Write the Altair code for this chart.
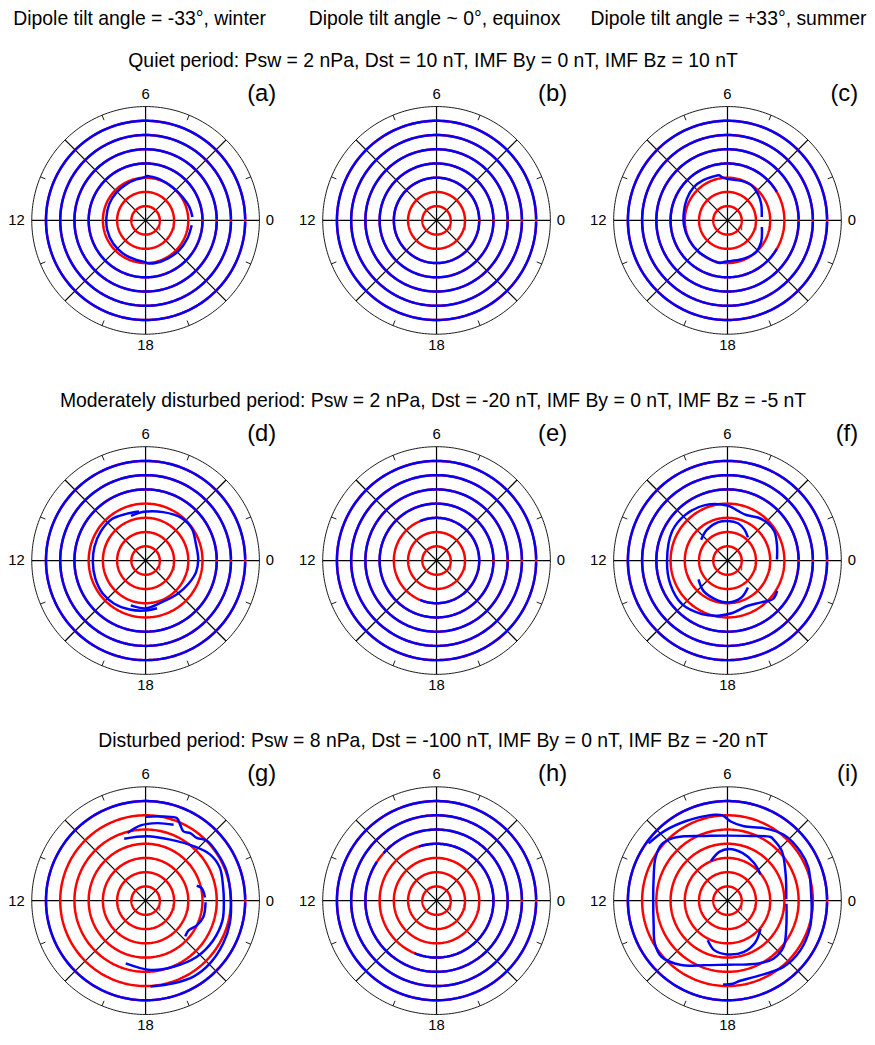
import altair as alt
import pandas as pd

FONT = "Liberation Sans"
RED = "#ff0000"
BLUE = "#0000ff"

# ---------------- text ----------------
COL_TITLES = [
    "Dipole tilt angle = -33°, winter",
    "Dipole tilt angle ~ 0°, equinox",
    "Dipole tilt angle = +33°, summer",
]
COL_DX = [-2.5, 1.5, -0.5]
ROW_TITLES = [
    "Quiet period: Psw = 2 nPa, Dst = 10 nT, IMF By = 0 nT, IMF Bz = 10 nT",
    "Moderately disturbed period: Psw = 2 nPa, Dst = -20 nT, IMF By = 0 nT, IMF Bz = -5 nT",
    "Disturbed period: Psw = 8 nPa, Dst = -100 nT, IMF By = 0 nT, IMF Bz = -20 nT",
]
PANEL_LABELS = ["(a)", "(b)", "(c)", "(d)", "(e)", "(f)", "(g)", "(h)", "(i)"]

# ---------------- polar frame ----------------
HOUR_VALUES = [0, 6, 12, 18]
HOUR_TEXT = ["0", "6", "12", "18"]
SPOKE_HOURS = [0, 3, 6, 9, 12, 15, 18, 21]
RIM_TICK_HOURS = [1.5, 4.5, 7.5, 10.5, 13.5, 16.5, 19.5, 22.5]
RADIAL_TICK_R = [1, 2, 3, 4, 5, 6, 7]
RIM_R = 8
MODEL_R = [1, 2, 3, 4, 5, 6, 7]   # red (model) contours, all panels

# ---------------- blue contours that follow circles: (radius, from hour, to hour) ----
A_ARCS = [(4, 0, 24), (5, 0, 24), (6, 0, 24), (7, 0, 24)]
B_ARCS = [(3, 0, 24), (4, 0, 24), (5, 0, 24), (6, 0, 24), (7, 0, 24)]
C_ARCS = [(4, 2.0, 22.0), (5, 0, 24), (6, 0, 24), (7, 0, 24)]
D_ARCS = [(5, 0, 24), (6, 0, 24), (7, 0, 24)]
E_ARCS = [(3, 16.5, 31.5), (4, 0, 24), (5, 0, 24), (6, 0, 24), (7, 0, 24)]
F_ARCS = [(5, 0, 24), (6, 0, 24), (7, 0, 24)]
G_ARCS = [(7, 0, 24)]
H_ARCS = [(4, 16.5, 31.2), (5, 9.8, 33.2), (6, 0, 24), (7, 0, 24)]
I_ARCS = [(7, 0, 24)]

# ---------------- distorted blue contours: hour (MLT) and radius ----------------
A1_H = [0.27, 1.12, 2.13, 3.37, 4.76, 5.55, 5.85, 6.2, 6.84, 7.85, 9.07, 10.37, 11.68,
        12.97, 14.37, 15.72, 17.13, 17.9, 18.2, 18.78, 20.0, 21.24, 22.44, 23.6]
A1_R = [3.30, 3.22, 3.08, 3.00, 3.06, 3.10, 3.12, 3.00, 2.95, 2.88, 2.84, 2.80, 2.76,
        2.78, 2.80, 2.82, 2.86, 2.92, 3.02, 3.08, 3.10, 3.16, 3.20, 3.26]

C1_H = [0.37, 1.74, 2.73, 3.73, 4.7, 5.94, 6.45, 6.7, 7.19, 8.06, 9.05, 10.14, 11.29,
        12.43, 13.83, 15.15, 16.55, 17.3, 17.6, 18.37, 19.62, 20.83, 21.83, 23.27]
C1_R = [2.42, 2.64, 2.83, 2.99, 2.95, 2.90, 3.05, 3.22, 3.24, 3.30, 3.33, 3.23, 3.12,
        3.08, 3.03, 3.00, 3.00, 3.05, 2.95, 2.87, 2.93, 2.99, 2.81, 2.46]

D1_H = [7.2, 6.13, 4.67, 3.3, 2.3, 1.19, 0.1, 23.14, 22.1, 20.9, 19.32, 18.0, 16.79]
D1_R = [3.30, 3.43, 3.62, 3.92, 3.95, 3.72, 3.70, 3.64, 3.43, 3.25, 3.15, 3.36, 3.32]
D2_H = [6.5, 7.5, 8.6, 9.8, 11.0, 12.1, 13.3, 14.5, 15.6, 16.8, 17.9, 18.9]
D2_R = [3.48, 3.55, 3.75, 3.75, 3.72, 3.71, 3.75, 3.80, 3.75, 3.62, 3.52, 3.45]

F1_H = [0.08, 1.18, 2.12, 2.85, 3.65, 4.5, 5.2, 5.95, 7.47, 8.85, 10.16, 12.04, 13.5,
        14.9, 16.29, 17.36, 18.29, 19.62, 20.59, 21.3, 21.9]
F1_R = [3.48, 3.65, 3.88, 3.86, 3.70, 3.46, 3.56, 3.85, 4.20, 4.37, 4.40, 4.25, 4.35,
        4.43, 4.17, 3.93, 3.72, 3.49, 3.78, 4.18, 4.10]
F2_H = [3.23, 4.05, 4.95, 5.94, 6.9, 8.27, 9.45]
F2_R = [2.17, 2.47, 2.72, 2.78, 2.77, 2.60, 2.36]
F3_H = [14.2, 15.44, 16.8, 18.06, 19.37, 20.47]
F3_R = [2.43, 2.72, 2.85, 2.95, 2.78, 2.38]

G1_H = [6.0, 5.19, 4.61, 4.37, 4.09, 3.77, 3.39, 2.97, 2.17, 1.35, 0.15, 23.0, 22.07,
        21.05, 20.15, 19.25, 18.22]
G1_R = [5.90, 6.05, 6.20, 5.87, 5.55, 5.69, 5.69, 6.02, 6.05, 6.06, 5.99, 6.13, 6.23,
        6.32, 6.31, 6.13, 6.04]
G2_H = [7.27, 5.9, 4.53, 3.25, 2.38, 1.6, 0.64, 0.0, 23.04, 21.98, 20.83, 19.53, 18.27, 16.83]
G2_R = [4.61, 4.53, 4.63, 5.10, 5.57, 5.71, 5.53, 5.50, 5.58, 5.51, 5.34, 5.04, 4.88, 4.62]
G3_H = [7.0, 6.25, 5.43, 4.65]
G3_R = [4.92, 5.30, 5.51, 5.69]
G4_H = [1.08, 0.84, 0.21]
G4_R = [3.74, 4.04, 4.18]
G5_H = [23.9, 22.94, 22.28, 21.69, 21.2]
G5_R = [4.22, 4.22, 4.00, 3.67, 3.75]

I1_H = [9.6, 8.8, 7.8, 7.0, 6.58, 6.22, 5.84, 5.17, 4.23, 3.3, 2.28, 1.48, 0.3,
        23.6, 22.8, 21.7, 20.7, 19.4, 18.6, 18.25, 17.8]
I1_R = [6.85, 6.60, 6.30, 6.15, 6.10, 6.00, 5.57, 5.35, 5.70, 6.09, 6.18, 6.14, 5.90,
        5.95, 6.10, 6.20, 6.10, 5.70, 5.70, 5.85, 5.90]
I2_H = [0.1, 1.63, 2.82, 3.53, 3.73, 4.69, 6.0, 7.31, 8.25, 8.81, 9.31, 9.95, 11.0, 12.0,
        13.16, 14.04, 14.69, 15.62, 16.69, 18.0, 19.15, 19.77, 20.58, 21.37, 22.39, 23.8]
I2_R = [4.13, 4.49, 5.17, 5.38, 5.40, 4.83, 4.57, 4.83, 5.44, 5.88, 6.09, 5.89, 5.38, 5.22,
        5.44, 5.93, 6.09, 5.57, 4.81, 4.50, 4.69, 4.93, 5.20, 5.11, 4.53, 4.15]
I3_H = [7.51, 6.64, 5.88, 4.85, 3.68, 2.58]
I3_R = [3.02, 3.48, 3.64, 3.52, 3.25, 2.97]
I4_H = [16.23, 17.0, 18.0, 19.19, 20.28, 21.31]
I4_R = [3.11, 3.60, 3.78, 3.78, 3.51, 3.05]

PANELS = [
    ("(a)", A_ARCS, [(A1_H, A1_R)]),
    ("(b)", B_ARCS, []),
    ("(c)", C_ARCS, [(C1_H, C1_R)]),
    ("(d)", D_ARCS, [(D1_H, D1_R), (D2_H, D2_R)]),
    ("(e)", E_ARCS, []),
    ("(f)", F_ARCS, [(F1_H, F1_R), (F2_H, F2_R), (F3_H, F3_R)]),
    ("(g)", G_ARCS, [(G1_H, G1_R), (G2_H, G2_R), (G3_H, G3_R), (G4_H, G4_R), (G5_H, G5_R)]),
    ("(h)", H_ARCS, []),
    ("(i)", I_ARCS, [(I1_H, I1_R), (I2_H, I2_R), (I3_H, I3_R), (I4_H, I4_R)]),
]

# ---------------- layout / style constants ----------------
PX_PER_UNIT = 14.375
X_DOM = [-9.67, 9.18]    # panel extent, data units (room for the hour labels)
Y_DOM = [-9.18, 9.39]
W = round((X_DOM[1] - X_DOM[0]) * PX_PER_UNIT)
H = round((Y_DOM[1] - Y_DOM[0]) * PX_PER_UNIT)
TITLE_SIZE = 19.6
LINE_W = 2.5
COL_GAP = 23
# hour-label placement: (hour, label radius, align, baseline)
LABEL_STYLE = [(6, 8.54, "center", "alphabetic"), (18, 8.25, "center", "top"),
               (12, 8.5, "right", "middle"), (0, 8.45, "left", "middle")]
XS = alt.Scale(domain=X_DOM, nice=False, zero=False)
YS = alt.Scale(domain=Y_DOM, nice=False, zero=False)
X = alt.X("x:Q", scale=XS, axis=None)
Y = alt.Y("y:Q", scale=YS, axis=None)
POLAR = dict(x="datum.r*cos(datum.h*PI/12)", y="datum.r*sin(datum.h*PI/12)")
LABEL_DF = pd.DataFrame({"h": HOUR_VALUES, "t": HOUR_TEXT})


def ring_layer(arcs, color, width, trim_full):
    h0, h1 = [], []
    for r, a, b in arcs:
        if trim_full and b - a >= 24:
            a, b = a + 0.04, b - 0.04
        h0.append(a)
        h1.append(b)
    df = pd.DataFrame({"id": list(range(len(arcs))), "r": [a[0] for a in arcs],
                       "h0": h0, "h1": h1})
    return (alt.Chart(df)
            .transform_calculate(h="sequence(datum.h0, datum.h1 + 0.001, 0.1)")
            .transform_flatten(["h"])
            .transform_calculate(**POLAR)
            .mark_line(color=color, strokeWidth=width)
            .encode(x=X, y=Y, detail="id:N", order="h:Q"))


def curve_layer(curves):
    ids, ks, hs, rs = [], [], [], []
    for cid, (Hh, Rr) in enumerate(curves):
        for k, (h, r) in enumerate(zip(Hh, Rr)):
            ids.append(cid); ks.append(k); hs.append(h); rs.append(r)
    df = pd.DataFrame({"id": ids, "k": ks, "h": hs, "r": rs})
    return (alt.Chart(df).transform_calculate(**POLAR)
            .mark_line(color=BLUE, strokeWidth=LINE_W, interpolate="catmull-rom")
            .encode(x=X, y=Y, detail="id:N", order="k:Q"))


def label_layer(hour, r, align, baseline):
    return (alt.Chart(LABEL_DF)
            .transform_filter(f"datum.h == {hour}")
            .transform_calculate(r=str(r))
            .transform_calculate(**POLAR)
            .mark_text(font=FONT, fontSize=15, color="black", align=align, baseline=baseline)
            .encode(x=X, y=Y, text="t:N"))


def panel(label, arcs, curves):
    spokes = (alt.Chart(pd.DataFrame({"h": SPOKE_HOURS}))
              .transform_calculate(x="0", y="0",
                                   x2=f"{RIM_R}*cos(datum.h*PI/12)",
                                   y2=f"{RIM_R}*sin(datum.h*PI/12)")
              .mark_rule(color="black", strokeWidth=1.25)
              .encode(x=X, y=Y, x2="x2:Q", y2="y2:Q"))
    rim_ticks = (alt.Chart(pd.DataFrame({"h": RIM_TICK_HOURS}))
                 .transform_calculate(x=f"{RIM_R - 0.38}*cos(datum.h*PI/12)",
                                      y=f"{RIM_R - 0.38}*sin(datum.h*PI/12)",
                                      x2=f"{RIM_R}*cos(datum.h*PI/12)",
                                      y2=f"{RIM_R}*sin(datum.h*PI/12)")
                 .mark_rule(color="black", strokeWidth=0.9)
                 .encode(x=X, y=Y, x2="x2:Q", y2="y2:Q"))
    radial_ticks = (alt.Chart(pd.DataFrame({"r": RADIAL_TICK_R}))
                    .transform_calculate(x="datum.r", y="-0.15", y2="-0.7")
                    .mark_rule(color="#444444", strokeWidth=1)
                    .encode(x=X, y=Y, y2="y2:Q"))
    rim = ring_layer([(RIM_R, 0, 24)], "black", 0.9, False)
    model = ring_layer([(r, 0, 24) for r in MODEL_R], RED, LINE_W, False)
    blue = ring_layer(arcs, BLUE, LINE_W, True)
    layers = [radial_ticks, spokes, rim_ticks, rim, model, blue]
    if curves:
        layers.append(curve_layer(curves))
    layers += [label_layer(*s) for s in LABEL_STYLE]
    return alt.layer(*layers).properties(
        width=W, height=H,
        title=alt.TitleParams(label, anchor="end", fontSize=24, font=FONT,
                              fontWeight="normal", offset=-19, dx=0))


rows = []
for i in range(3):
    ps = [panel(*PANELS[3 * i + j]) for j in range(3)]
    rows.append(alt.hconcat(*ps, spacing=COL_GAP,
                            title=alt.TitleParams(ROW_TITLES[i], fontSize=TITLE_SIZE, font=FONT,
                                                  fontWeight="normal", offset=10.6,
                                                  anchor="middle")))

heads = []
for j in range(3):
    heads.append(alt.Chart(pd.DataFrame({"v": [0]})).mark_point(opacity=0, size=1)
                 .encode(x=alt.value(W / 2), y=alt.value(0.5))
                 .properties(width=W, height=1,
                             title=alt.TitleParams(COL_TITLES[j], fontSize=TITLE_SIZE, font=FONT,
                                                   fontWeight="normal", offset=0,
                                                   dx=COL_DX[j])))
header = alt.hconcat(*heads, spacing=COL_GAP)

chart = alt.vconcat(header, alt.vconcat(*rows, spacing=37.7), spacing=20.2).properties(
    padding={"left": 0, "top": -5, "right": 0, "bottom": 0}
).configure_view(stroke=None).configure_title(color="black")

chart.save("out.html", embed_options={"renderer": "svg", "actions": False})
